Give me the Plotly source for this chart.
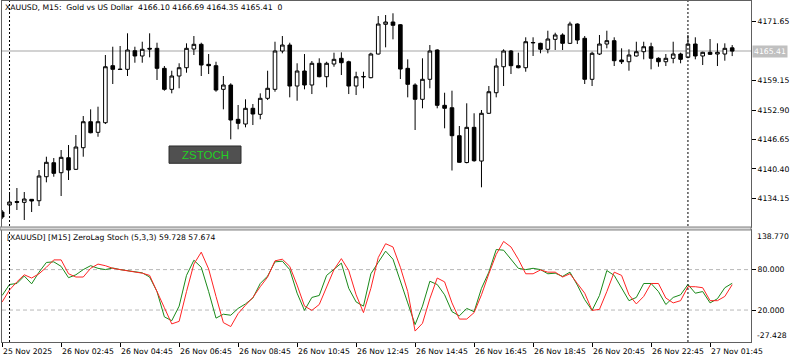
import plotly.graph_objects as go

# ---- bar times (M15, market pause 00:00-01:00) ----
times = (["25 Nov 23:45"]
         + [f"26 Nov {h:02d}:{m:02d}" for h in range(1, 24) for m in (0, 15, 30, 45)]
         + [f"27 Nov {h:02d}:{m:02d}" for h in (1, 2) for m in (0, 15, 30, 45)][:7])

open_ = [4131.23, 4132.72, 4133.46, 4133.29, 4133.93, 4133.63, 4138.73, 4141.70, 4139.58, 4142.76,
         4140.30, 4144.89, 4150.41, 4148.16, 4150.20, 4162.31, 4161.60, 4161.54, 4165.49, 4164.37,
         4166.00, 4166.00, 4161.75, 4157.29, 4160.12, 4161.88, 4165.85, 4166.85, 4162.60, 4162.31,
         4157.29, 4158.21, 4150.92, 4149.92, 4153.26, 4151.98, 4155.38, 4157.29, 4165.43, 4166.70,
         4157.99, 4161.18, 4158.21, 4162.82, 4159.97, 4162.67, 4163.88, 4163.15, 4157.99, 4159.91,
         4159.76, 4164.79, 4171.10, 4171.59, 4171.01, 4161.75, 4158.21, 4155.17, 4159.42, 4165.64,
         4153.89, 4153.38, 4147.44, 4141.74, 4149.22, 4142.06, 4152.20, 4156.57, 4162.09, 4165.43,
         4162.31, 4161.88, 4167.15, 4167.06, 4165.79, 4167.91, 4168.83, 4167.06, 4171.16, 4168.13,
         4159.42, 4164.79, 4166.91, 4167.62, 4163.52, 4163.15, 4164.37, 4165.28, 4166.34, 4163.88,
         4163.15, 4163.88, 4164.79, 4164.09, 4166.91, 4164.37, 4165.15, 4164.79, 4164.79, 4166.10]

high = [4131.66, 4135.48, 4136.33, 4135.48, 4133.99, 4140.15, 4142.98, 4142.70, 4144.40, 4145.46,
        4147.59, 4151.62, 4153.04, 4153.60, 4164.58, 4166.34, 4166.49, 4169.19, 4166.34, 4167.40,
        4169.19, 4167.19, 4162.24, 4161.24, 4162.82, 4167.06, 4168.61, 4167.19, 4164.79, 4163.15,
        4160.12, 4158.57, 4153.96, 4155.17, 4154.17, 4156.44, 4161.24, 4167.40, 4168.61, 4167.19,
        4162.82, 4164.79, 4163.30, 4163.88, 4163.15, 4165.07, 4165.15, 4163.37, 4161.03, 4161.03,
        4165.07, 4172.86, 4173.07, 4173.44, 4171.16, 4163.66, 4158.57, 4163.88, 4166.70, 4165.79,
        4156.57, 4157.00, 4149.50, 4154.32, 4152.20, 4152.90, 4157.99, 4163.88, 4165.79, 4165.64,
        4165.07, 4168.34, 4168.34, 4167.19, 4169.74, 4169.31, 4169.19, 4171.65, 4171.31, 4168.61,
        4165.28, 4168.83, 4169.74, 4168.34, 4166.00, 4165.79, 4167.40, 4167.40, 4167.19, 4164.09,
        4164.79, 4167.40, 4165.07, 4168.83, 4168.34, 4165.28, 4167.98, 4167.06, 4167.06, 4166.69]

low = [4129.74, 4131.02, 4131.66, 4129.53, 4131.23, 4132.51, 4137.54, 4138.73, 4134.63, 4138.03,
       4140.15, 4142.98, 4147.95, 4147.22, 4149.92, 4158.42, 4161.39, 4160.12, 4162.94, 4162.94,
       4164.09, 4159.27, 4157.00, 4156.44, 4157.51, 4160.82, 4164.58, 4160.12, 4160.54, 4156.78,
       4153.04, 4146.67, 4148.80, 4149.22, 4149.71, 4150.92, 4155.02, 4156.78, 4164.94, 4155.59,
       4154.87, 4157.29, 4156.29, 4159.84, 4157.72, 4162.09, 4160.33, 4156.29, 4156.08, 4157.51,
       4159.63, 4164.68, 4166.21, 4167.91, 4159.48, 4155.59, 4148.65, 4153.26, 4157.51, 4153.26,
       4149.01, 4140.05, 4141.70, 4141.57, 4141.91, 4136.48, 4152.05, 4155.59, 4157.99, 4160.54,
       4161.75, 4161.03, 4164.37, 4164.94, 4164.94, 4165.64, 4165.64, 4166.91, 4166.91, 4158.42,
       4157.99, 4164.58, 4166.00, 4162.24, 4162.67, 4161.24, 4164.26, 4163.66, 4161.54, 4162.09,
       4162.24, 4162.82, 4162.82, 4163.88, 4163.66, 4162.45, 4164.58, 4162.24, 4163.37, 4164.35]

close = [4130.17, 4133.36, 4133.29, 4133.99, 4133.57, 4138.88, 4141.79, 4139.45, 4142.85, 4140.15,
         4145.04, 4150.41, 4148.07, 4150.41, 4162.09, 4161.54, 4161.50, 4165.64, 4164.37, 4165.79,
         4165.85, 4161.75, 4157.29, 4160.12, 4161.88, 4166.00, 4166.85, 4162.45, 4162.31, 4157.14,
         4158.21, 4150.77, 4150.07, 4153.26, 4152.05, 4155.38, 4157.51, 4165.43, 4166.70, 4157.99,
         4161.18, 4158.21, 4162.82, 4159.97, 4162.82, 4163.66, 4162.94, 4157.99, 4159.97, 4160.01,
         4164.79, 4171.16, 4171.59, 4170.89, 4161.60, 4158.35, 4155.17, 4159.42, 4165.43, 4153.89,
         4153.26, 4147.44, 4141.79, 4149.22, 4142.13, 4152.20, 4156.78, 4162.24, 4165.43, 4162.31,
         4161.88, 4167.40, 4167.23, 4165.79, 4167.98, 4168.83, 4167.06, 4171.16, 4167.76, 4159.42,
         4164.94, 4166.91, 4167.62, 4163.37, 4163.15, 4164.58, 4165.28, 4166.34, 4163.88, 4163.15,
         4163.88, 4164.79, 4163.66, 4166.91, 4164.37, 4165.15, 4164.73, 4165.15, 4166.00, 4165.41]

stoch_main = [41.6, 57.9, 59.4, 70.4, 58.9, 76.2, 90.6, 91.5, 84.8, 68.0,
              72.3, 80.0, 85.8, 81.9, 80.0, 82.4, 80.0, 78.1, 77.1, 75.2,
              69.0, 47.4, 9.9, 4.2, 25.8, 71.4, 93.9, 83.4, 47.4, 8.0,
              13.8, 12.3, 22.4, 29.1, 37.8, 59.4, 70.4, 91.5, 92.5, 80.0,
              45.0, 19.5, 38.7, 41.6, 71.4, 81.0, 89.6, 52.2, 32.0, 25.8,
              73.8, 90.6, 107.4, 95.4, 61.8, 30.6, -1.6, 25.8, 62.7, 57.9,
              42.6, 17.6, 11.4, 22.4, 17.6, 52.2, 76.2, 109.8, 108.8, 95.4,
              81.9, 80.0, 81.9, 80.0, 73.8, 74.7, 69.9, 76.2, 57.0, 35.4,
              19.5, 41.6, 78.6, 71.4, 52.2, 33.9, 38.7, 59.4, 59.4, 47.4,
              28.2, 38.7, 42.6, 57.9, 45.0, 47.4, 30.6, 36.8, 53.1, 59.728]

stoch_signal = [32.0, 49.8, 61.8, 72.3, 67.5, 73.8, 83.4, 94.4, 94.4, 73.8,
                69.0, 69.0, 81.9, 88.2, 85.8, 81.9, 80.0, 78.6, 76.2, 74.7,
                71.4, 48.3, 23.4, -0.6, 3.2, 47.4, 88.2, 105.9, 81.0, 40.2,
                1.3, -4.5, 14.7, 27.2, 38.7, 54.6, 69.0, 93.0, 95.4, 84.8,
                57.0, 25.8, 19.5, 28.2, 54.6, 80.0, 96.3, 78.6, 42.6, 16.2,
                52.2, 97.8, 118.4, 113.6, 83.4, 47.4, -11.2, 0.3, 36.8, 67.5,
                61.8, 30.6, 6.6, 6.6, 16.2, 42.6, 73.8, 102.6, 121.8, 113.6,
                95.4, 73.8, 73.8, 79.5, 76.2, 76.2, 69.0, 73.8, 59.4, 45.0,
                19.5, 21.0, 47.4, 76.2, 71.4, 42.6, 29.1, 40.2, 59.4, 59.4,
                37.8, 30.6, 33.9, 54.6, 54.6, 53.1, 33.9, 33.9, 40.2, 57.674]

price_ticks = [4134.15, 4140.40, 4146.65, 4152.90, 4159.15, 4171.65]
stoch_levels = [20.0, 80.0]
stoch_min, stoch_max = -27.428, 138.770
bid = 4165.41
price_min, price_max = 4128.05, 4176.05

time_tick_bars = ["25 Nov 23:45", "26 Nov 02:45", "26 Nov 04:45", "26 Nov 06:45", "26 Nov 08:45",
                  "26 Nov 10:45", "26 Nov 12:45", "26 Nov 14:45", "26 Nov 16:45", "26 Nov 18:45",
                  "26 Nov 20:45", "26 Nov 22:45", "27 Nov 01:45"]
time_tick_text = ["25 Nov 2025", "26 Nov 02:45", "26 Nov 04:45", "26 Nov 06:45", "26 Nov 08:45",
                  "26 Nov 10:45", "26 Nov 12:45", "26 Nov 14:45", "26 Nov 16:45", "26 Nov 18:45",
                  "26 Nov 20:45", "26 Nov 22:45", "27 Nov 01:45"]
day_starts = ["26 Nov 01:00", "27 Nov 01:00"]

title_text = "XAUUSD, M15:\u00a0 Gold vs US Dollar\u00a0 4166.10 4166.69 4164.35 4165.41\u00a0 0"
sub_text = "[XAUUSD] [M15] ZeroLag Stoch (5,3,3) 59.728 57.674"

FONT = "DejaVu Sans"
FS = 7.7
AXC = "#606060"

fig = go.Figure()
fig.add_trace(go.Candlestick(
    x=times, open=open_, high=high, low=low, close=close,
    xaxis="x", yaxis="y",
    increasing=dict(line=dict(color="black", width=1), fillcolor="white"),
    decreasing=dict(line=dict(color="black", width=1), fillcolor="black"),
    whiskerwidth=0, hoverinfo="skip", showlegend=False))
fig.add_trace(go.Scatter(x=times, y=stoch_main, xaxis="x2", yaxis="y2", mode="lines",
                         line=dict(color="#1a8a1a", width=1), hoverinfo="skip", showlegend=False))
fig.add_trace(go.Scatter(x=times, y=stoch_signal, xaxis="x2", yaxis="y2", mode="lines",
                         line=dict(color="#ff2424", width=1), hoverinfo="skip", showlegend=False))

xr = [-0.02, 101.55]
main_dom = [0.33724, 1.0]
sub_dom = [0.0, 0.32845]

fig.update_layout(
    width=800, height=362,
    margin=dict(l=2, r=49, t=1, b=20),
    paper_bgcolor="white", plot_bgcolor="white",
    font=dict(family=FONT, size=FS, color="black"),
    showlegend=False,
    xaxis=dict(domain=[0, 1], anchor="y", type="category", range=xr, showticklabels=False,
               ticks="", showgrid=False, zeroline=False, showline=True, mirror=True,
               linecolor=AXC, linewidth=1, rangeslider=dict(visible=False), fixedrange=True),
    xaxis2=dict(domain=[0, 1], anchor="y2", type="category", matches="x", range=xr,
                tickmode="array", tickvals=time_tick_bars, ticks="outside", ticklen=4,
                tickcolor="black", showticklabels=False, showgrid=False, zeroline=False,
                showline=True, mirror=True, linecolor=AXC, linewidth=1),
    yaxis=dict(domain=main_dom, anchor="x", side="right", range=[price_min, price_max],
               tickmode="array", tickvals=price_ticks, ticktext=[f"{v:.2f}" for v in price_ticks],
               ticks="outside", ticklen=4, tickcolor="black", showgrid=False, zeroline=False,
               showline=True, mirror=True, linecolor=AXC, linewidth=1,
               tickfont=dict(family=FONT, size=FS, color="black")),
    yaxis2=dict(domain=sub_dom, anchor="x2", side="right", range=[stoch_min, stoch_max],
                tickmode="array", tickvals=stoch_levels, ticktext=[f"{v:.3f}" for v in stoch_levels],
                ticks="outside", ticklen=4, tickcolor="black", showgrid=False, zeroline=False,
                showline=True, mirror=True, linecolor=AXC, linewidth=1,
                tickfont=dict(family=FONT, size=FS, color="black")),
)

shapes = []
# bid line
shapes.append(dict(type="line", xref="paper", yref="y", x0=0, x1=1, y0=bid, y1=bid,
                   line=dict(color="#d2d2d2", width=2), layer="below"))
# stoch levels
for lv in stoch_levels:
    shapes.append(dict(type="line", xref="paper", yref="y2", x0=0, x1=1, y0=lv, y1=lv,
                       line=dict(color="#b8b8b8", width=1, dash="4px,3px"), layer="below"))
# day separators
for d in day_starts:
    xi = times.index(d)
    shapes.append(dict(type="line", xref="x", yref="paper", x0=xi, x1=xi, y0=0, y1=1,
                       line=dict(color="black", width=1, dash="2px,2px")))
# panel separator band
shapes.append(dict(type="rect", xref="paper", yref="paper", x0=-0.0027, x1=1.0, y0=sub_dom[1], y1=main_dom[0],
                   fillcolor="#d8d8d8", line=dict(color="#808080", width=1)))
# ZSTOCH button
shapes.append(dict(type="rect", xref="paper", yref="paper", x0=0.2230, x1=0.3191, y0=0.5241, y1=0.5748,
                   fillcolor="#505050", line=dict(color="#2c2c2c", width=1)))
fig.update_layout(shapes=shapes)

ann = []
ann.append(dict(text=title_text, xref="paper", yref="paper", x=0.0013, y=0.9795,
                xanchor="left", yanchor="middle", showarrow=False, font=dict(family=FONT, size=FS)))
ann.append(dict(text=sub_text, xref="paper", yref="paper", x=0.004, y=0.305,
                xanchor="left", yanchor="middle", showarrow=False, font=dict(family=FONT, size=FS)))
ann.append(dict(text="ZSTOCH", xref="paper", yref="paper", x=0.2711, y=0.5494,
                xanchor="center", yanchor="middle", showarrow=False,
                font=dict(family="Liberation Sans", size=11.5, color="#22d022")))
ann.append(dict(text=f"{bid:.2f}", xref="paper", yref="y", x=1, y=bid, xshift=1,
                xanchor="left", yanchor="middle", showarrow=False, bgcolor="#c0c0c0",
                borderpad=1, font=dict(family=FONT, size=FS, color="white")))
ann.append(dict(text=f"{stoch_max:.3f}", xref="paper", yref="y2", x=1, y=stoch_max, xshift=4,
                xanchor="left", yanchor="top", showarrow=False, font=dict(family=FONT, size=FS)))
ann.append(dict(text=f"{stoch_min:.3f}", xref="paper", yref="y2", x=1, y=stoch_min, xshift=4,
                xanchor="left", yanchor="bottom", showarrow=False, font=dict(family=FONT, size=FS)))
for t, lab in zip(time_tick_bars, time_tick_text):
    ann.append(dict(text=lab, xref="x2", yref="paper", x=times.index(t), y=-0.0279,
                    xanchor="left", yanchor="middle", showarrow=False, xshift=-1,
                    font=dict(family=FONT, size=FS)))
fig.update_layout(annotations=ann)

fig.write_html("out.html")
